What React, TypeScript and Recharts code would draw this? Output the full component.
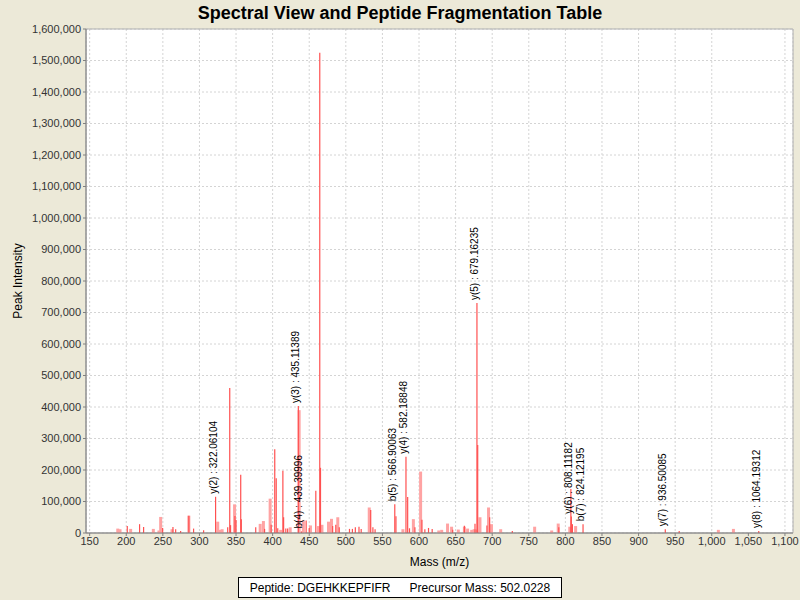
import React from 'react';
import { ScatterChart, Scatter, XAxis, YAxis, CartesianGrid, ErrorBar, ReferenceArea } from 'recharts';

const FONT = '"Liberation Sans", Arial, sans-serif';

// thin (red) peaks
const redMz = [
  201.4, 218.2, 223.7, 249.7, 263.8, 267.5, 274.3, 285.5, 292, 305.7,
  338.6, 341.4, 342.5, 348.5, 350, 356.4, 357.2,
  376.9, 389, 398, 402.9, 404.9, 407, 414, 415, 418, 420.5,
  445.8, 450, 459, 464.4, 465.4, 482, 486.3, 491, 505, 509, 513, 518, 521,
  534, 537, 540, 568.5, 584.5, 587, 594.4, 604, 608, 613, 618, 646, 662, 676.5,
  680.2, 692.8, 696.5, 727.5, 791, 807.5, 809.6, 955.5,
];
const redIntensity = [
  22000, 28000, 19000, 16000, 19000, 12000, 6000, 55000, 14000, 9000,
  18000, 460000, 25000, 54000, 41000, 185000, 44000,
  18000, 13000, 26000, 266000, 174000, 15000, 198000, 50000, 14000, 14000,
  40000, 16000, 134000, 1525000, 207000, 22000, 26000, 18000, 13000, 13000, 18000, 20000, 13000,
  73000, 18000, 12000, 53000, 114000, 15000, 18000, 42000, 12000, 16000, 13000, 10000, 23000, 29000,
  279000, 24000, 50000, 6000, 18000, 140000, 28000, 6000,
];

// wider, lighter peaks
const pinkMz = [
  188.4, 191.5, 206, 237, 244.7, 247, 262.5, 285.5, 325, 328, 331, 348,
  383, 387.4, 396.6, 411, 424, 436.2, 442, 451.7, 462.6, 467.4, 476.3, 480.4, 489, 532,
  578, 592.3, 602.2, 627, 631, 639, 644.5, 653.7, 662, 666.4, 672, 675.3, 678.7,
  683.3, 695, 699, 711.6, 758, 781.3, 790.2, 806, 814, 1009, 1029.6,
];
const pinkIntensity = [
  14000, 12000, 13000, 13000, 8000, 51000, 12000, 55000, 36000, 10000, 12000, 91000,
  29000, 38000, 109000, 10000, 18000, 390000, 40000, 24000, 22000, 26000, 36000, 45000, 50000, 81000,
  12000, 44000, 195000, 8000, 10000, 30000, 20000, 11000, 20000, 14000, 10000, 12000, 11000,
  50000, 81000, 28000, 12000, 20000, 8000, 30000, 20000, 22000, 10000, 13000,
];

// annotated fragment ions
const ionLabels = [
  'y(2) : 322.06104', 'y(3) : 435.11389', 'b(4) : 439.39996', 'b(5) : 566.90063',
  'y(4) : 582.18848', 'y(5) : 679.16235', 'y(6) : 808.11182', 'b(7) : 824.12195',
  'y(7) : 936.50085', 'y(8) : 1064.19312',
];
const ionMz = [322.06104, 435.11389, 439.39996, 566.90063, 582.18848, 679.16235, 808.11182, 824.12195, 936.50085, 1064.19312];
const ionIntensity = [115000, 403000, 5000, 91000, 242000, 730000, 52000, 28000, 12000, 6000];

const xTicks = [150, 200, 250, 300, 350, 400, 450, 500, 550, 600, 650, 700, 750, 800, 850, 900, 950, 1000, 1050, 1100];
const yTicks = [0, 100000, 200000, 300000, 400000, 500000, 600000, 700000, 800000, 900000, 1000000,
  1100000, 1200000, 1300000, 1400000, 1500000, 1600000];

const X_DOMAIN = [145, 1111];
const Y_DOMAIN = [0, 1600000];

const toPeaks = (mz: number[], inten: number[], labels?: string[]) =>
  mz.map((m, i) => ({ mz: m, intensity: inten[i], err: [inten[i], 0], label: labels ? labels[i] : '' }));

const redData = toPeaks(redMz, redIntensity);
const pinkData = toPeaks(pinkMz, pinkIntensity);
const ionData = toPeaks(ionMz, ionIntensity, ionLabels);

const fmt = (v: number) => v.toLocaleString('en-US');

const NoDot = () => <g />;

const IonLabel = (props: any) => {
  const { cx, cy, payload } = props;
  return (
    <text
      x={cx + 3}
      y={cy + 1}
      transform={`rotate(-90 ${cx} ${cy})`}
      fontSize={10}
      fontFamily={FONT}
      fill="#000"
    >
      {payload.label}
    </text>
  );
};

export default function App() {
  return (
    <div style={{ position: 'fixed', left: 0, top: 0, width: 800, height: 600, background: '#ECE9D8', fontFamily: FONT }}>
      <div style={{ position: 'absolute', left: 0, top: 2, width: 800, textAlign: 'center', fontSize: 18, fontWeight: 'bold', lineHeight: '22px' }}>
        Spectral View and Peptide Fragmentation Table
      </div>
      <div style={{ position: 'absolute', left: 0, top: 0 }}>
        <ScatterChart width={800} height={600} margin={{ top: 29, right: 7, bottom: 27, left: 0 }}>
          <CartesianGrid strokeDasharray="2 2" stroke="#d4d4d4" fill="#ffffff" />
          <ReferenceArea x1={X_DOMAIN[0]} x2={X_DOMAIN[1]} y1={Y_DOMAIN[0]} y2={Y_DOMAIN[1]} fill="none" stroke="#b0b0b0" />
          <XAxis
            type="number"
            dataKey="mz"
            domain={X_DOMAIN}
            ticks={xTicks}
            allowDataOverflow
            height={40}
            tickFormatter={fmt}
            tick={{ fill: '#333', fontSize: 11, fontFamily: FONT }}
            tickSize={3}
            tickMargin={1}
            stroke="#808080"
            label={{
              content: (p: any) => (
                <text x={p.viewBox.x + p.viewBox.width / 2} y={p.viewBox.y + 33} textAnchor="middle" fontSize={12} fontFamily={FONT} fill="#000">
                  Mass (m/z)
                </text>
              ),
            }}
          />
          <YAxis
            type="number"
            dataKey="intensity"
            domain={Y_DOMAIN}
            ticks={yTicks}
            allowDataOverflow
            width={86}
            tickFormatter={fmt}
            tick={{ fill: '#333', fontSize: 11, fontFamily: FONT }}
            tickSize={3}
            tickMargin={2}
            stroke="#808080"
            label={{
              content: (p: any) => {
                const x = p.viewBox.x + 22;
                const y = p.viewBox.y + p.viewBox.height / 2;
                return (
                  <text x={x} y={y} transform={`rotate(-90 ${x} ${y})`} textAnchor="middle" fontSize={12} fontFamily={FONT} fill="#000">
                    Peak Intensity
                  </text>
                );
              },
            }}
          />
          <Scatter data={pinkData} shape={NoDot} isAnimationActive={false}>
            <ErrorBar dataKey="err" direction="y" width={0} stroke="#ffa3a3" strokeWidth={3} isAnimationActive={false} />
          </Scatter>
          <Scatter data={redData} shape={NoDot} isAnimationActive={false}>
            <ErrorBar dataKey="err" direction="y" width={0} stroke="#ff5050" strokeWidth={1.2} isAnimationActive={false} />
          </Scatter>
          <Scatter data={ionData} shape={IonLabel} isAnimationActive={false}>
            <ErrorBar dataKey="err" direction="y" width={0} stroke="#ff5050" strokeWidth={1.2} isAnimationActive={false} />
          </Scatter>
        </ScatterChart>
      </div>
      <div
        style={{
          position: 'absolute', left: 238, top: 577, width: 324, height: 21, boxSizing: 'border-box',
          border: '1px solid #000', background: '#fff', fontSize: 12, display: 'flex',
          alignItems: 'center', justifyContent: 'center', gap: 19,
        }}
      >
        <span>Peptide: DGEHKKEPFIFR</span>
        <span>Precursor Mass: 502.0228</span>
      </div>
    </div>
  );
}
